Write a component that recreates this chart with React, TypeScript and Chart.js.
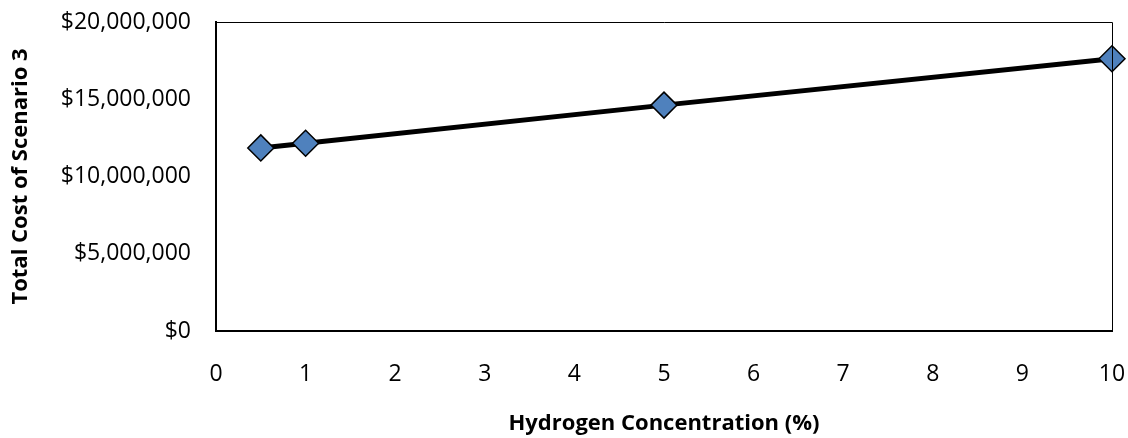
import React, { useEffect, useRef } from "react";
import { Chart, registerables } from "chart.js";

Chart.register(...registerables);

const concentrations = [0.5, 1, 5, 10];
const totalCost = [11850000, 12150000, 14620000, 17620000];
const xTicks = [0, 1, 2, 3, 4, 5, 6, 7, 8, 9, 10];
const yTicks = [0, 5000000, 10000000, 15000000, 20000000];

const xTitle = "Hydrogen Concentration (%)";
const yTitle = "Total Cost of Scenario 3";
const FONT = "'Open Sans', 'Liberation Sans', sans-serif";

const frame = {
  id: "frame",
  afterDatasetsDraw(chart: any) {
    const { ctx, chartArea } = chart;
    ctx.save();
    ctx.strokeStyle = "#000";
    ctx.lineWidth = 1;
    ctx.beginPath();
    ctx.moveTo(chartArea.left, chartArea.top + 0.5);
    ctx.lineTo(chartArea.right + 0.5, chartArea.top + 0.5);
    ctx.lineTo(chartArea.right + 0.5, chartArea.bottom);
    ctx.stroke();
    ctx.restore();
  },
};

export default function App() {
  const ref = useRef<HTMLCanvasElement>(null);
  useEffect(() => {
    if (!ref.current) return;
    const chart = new Chart(ref.current, {
      type: "scatter",
      data: {
        datasets: [
          {
            data: concentrations.map((x, i) => ({ x, y: totalCost[i] })),
            showLine: true,
            borderColor: "#000",
            borderWidth: 5,
            pointStyle: "rectRot",
            pointRadius: 13,
            pointHoverRadius: 13,
            pointBackgroundColor: "#4F81BD",
            pointBorderColor: "#000",
            pointBorderWidth: 1.5,
            clip: false,
          } as any,
        ],
      },
      options: {
        responsive: false,
        animation: false,
        events: [],
        layout: { padding: { top: 22, right: 16, left: 0, bottom: 0 } },
        plugins: { legend: { display: false }, tooltip: { enabled: false } },
        scales: {
          x: {
            type: "linear",
            min: 0,
            max: 10,
            afterBuildTicks: (s: any) => {
              s.ticks = xTicks.map((v) => ({ value: v }));
            },
            afterFit: (s: any) => {
              s.height = 107;
              s.paddingLeft = 0;
              s.paddingRight = 0;
            },
            grid: { display: false, drawTicks: false },
            border: { display: true, color: "#000", width: 2 },
            ticks: {
              padding: 30,
              color: "#000",
              font: { family: FONT, size: 23 },
              maxRotation: 0,
            },
            title: {
              display: true,
              text: xTitle,
              color: "#000",
              font: { family: FONT, size: 22, weight: "bold" },
              padding: { top: 0, bottom: 1 },
            },
          },
          y: {
            type: "linear",
            min: 0,
            max: 20000000,
            afterBuildTicks: (s: any) => {
              s.ticks = yTicks.map((v) => ({ value: v }));
            },
            afterFit: (s: any) => {
              s.width = 216;
              s.paddingTop = 0;
              s.paddingBottom = 0;
            },
            grid: { display: false, drawTicks: false },
            border: { display: true, color: "#000", width: 2 },
            ticks: {
              padding: 25,
              color: "#000",
              font: { family: FONT, size: 23 },
              callback: (v: any) => "$" + Number(v).toLocaleString("en-US"),
            },
            title: {
              display: true,
              text: yTitle,
              color: "#000",
              font: { family: FONT, size: 22, weight: "bold" },
              padding: { top: 8, bottom: 0 },
            },
          },
        },
      },
      plugins: [frame],
    });
    return () => chart.destroy();
  }, []);
  return (
    <div style={{ position: "fixed", left: 0, top: 0, width: 1128, height: 438, background: "#fff" }}>
      <canvas ref={ref} width={1128} height={438} />
    </div>
  );
}
